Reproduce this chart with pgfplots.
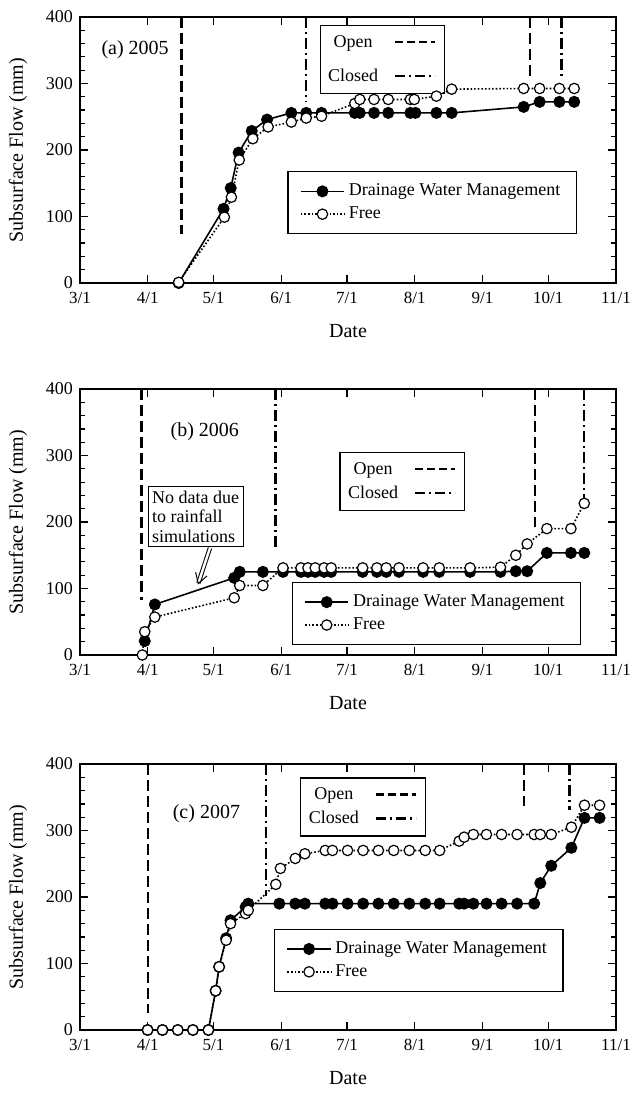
\documentclass[border=0pt]{standalone}
\usepackage{fontspec}
\setmainfont{Liberation Serif}
\usepackage{pgfplots}
\pgfplotsset{compat=1.18}
\usetikzlibrary{arrows.meta}

\pgfplotsset{
  panel/.style={
    scale only axis, width=268pt, height=133pt,
    xmin=0, xmax=245, ymin=0, ymax=400,
    xtick={0,31,61,92,122,153,184,214,245},
    xticklabels={3/1,4/1,5/1,6/1,7/1,8/1,9/1,10/1,11/1},
    ytick={0,100,200,300,400},
    minor y tick num=4,
    tick align=inside,
    major tick length=4pt, minor tick length=2.5pt,
    tick style={black, line width=0.6pt},
    axis line style={black, line width=0.9pt},
    /pgf/number format/assume math mode=true,
    yticklabel style={font=\fontsize{9}{10}\selectfont},
    xticklabel style={font=\fontsize{8.5}{10}\selectfont, yshift=-1pt},
    label style={font=\fontsize{10}{12}\selectfont},
    xlabel={Date}, ylabel={Subsurface Flow (mm)},
    every axis x label/.style={at={(rel axis cs:0.5,0)}, yshift=-24pt, anchor=center},
    every axis y label/.style={at={(rel axis cs:0,0.5)}, xshift=-31pt, rotate=90, anchor=center},
    clip=false,
    legend cell align=left,
    legend style={draw=black, line width=0.6pt, font=\fontsize{9}{11}\selectfont,
      inner xsep=6pt, inner ysep=4pt, row sep=0pt, anchor=north west},
    legend image code/.code={\draw[mark repeat=2,mark phase=2] plot coordinates {(0cm,0cm)(0.38cm,0cm)(0.76cm,0cm)};},
  },
  dwm/.style={black, solid, line width=0.8pt, mark=*, mark size=2.6pt, mark options={solid, fill=black}},
  free/.style={black, densely dotted, line width=0.8pt, mark=*, mark size=2.6pt, mark options={solid, fill=white, line width=0.6pt}},
  openl/.style={black, line width=1.2pt, dash pattern=on 5.5pt off 2.5pt, forget plot},
  closedl/.style={black, line width=1.2pt, dash pattern=on 5.5pt off 2pt on 1pt off 2pt, forget plot},
}

\newcommand{\ocbox}[3]{%
  \node[draw=black, line width=0.6pt, anchor=north west, inner xsep=4pt, inner ysep=3pt,
        font=\fontsize{9}{11}\selectfont] at (rel axis cs:#1,#2)
  {\begin{tabular}{@{}c@{\hspace{8pt}}l@{}}
   Open & \tikz[baseline=-0.6ex]\draw[line width=1.2pt,dash pattern=on 4pt off 2pt] (0,0)--(20pt,0);\\[#3]
   Closed & \tikz[baseline=-0.6ex]\draw[line width=1.2pt,dash pattern=on 5pt off 2pt on 1pt off 2pt] (0,0)--(20pt,0);
   \end{tabular}};}

\begin{document}
\begin{tikzpicture}
\useasboundingbox (0,0) rectangle (315.5pt,546.5pt);

% ---------------- (a) 2005 ----------------
\begin{axis}[panel, at={(40pt,405pt)}, anchor=south west,
  legend style={at={(rel axis cs:0.387,0.42)}}]
\addplot[openl] coordinates {(46.4,400) (46.4,74)};
\addplot[closedl] coordinates {(103.4,400) (103.4,272)};
\addplot[openl] coordinates {(205.7,400) (205.7,310)};
\addplot[closedl] coordinates {(220,400) (220,311)};
\addplot[dwm] coordinates {
(45.1,0) (65.6,111.5) (68.9,142.7) (72.5,196) (78.5,228.6) (85.5,245.7)
(96.6,255.8) (103.4,255.8) (110.4,255.8) (125.6,255.8) (127.9,255.8)
(134.4,255.8) (140.9,255.8) (151,255.8) (153.3,255.8) (162.9,255.8)
(169.9,255.8) (202.8,264.8) (210.1,272.4) (219.1,272.4) (225.9,272.4)};
\addlegendentry{Drainage Water Management}
\addplot[free] coordinates {
(45.1,1) (66,99) (69.2,129) (72.8,185) (79,217) (86,234.7)
(96.6,242) (103.4,248) (110.4,250.8) (125.6,270) (127.9,276)
(134.4,276) (140.9,276) (151,276) (152.8,276) (162.9,281)
(169.9,291.5) (202.8,292.5) (210.1,292.5) (219.1,292.5) (225.9,292.5)};
\addlegendentry{Free}
\node[anchor=west, font=\fontsize{10}{12}\selectfont] at (rel axis cs:0.027,0.876) {(a) 2005};
\ocbox{0.447}{0.969}{6pt}
\end{axis}

% ---------------- (b) 2006 ----------------
\begin{axis}[panel, at={(40pt,219pt)}, anchor=south west,
  legend style={at={(rel axis cs:0.395,0.274)}}]
\addplot[openl] coordinates {(28.2,400) (28.2,83)};
\addplot[closedl] coordinates {(89.3,400) (89.3,158)};
\addplot[openl] coordinates {(208,400) (208,193)};
\addplot[closedl] coordinates {(230.5,400) (230.5,228)};
\addplot[dwm] coordinates {
(29.6,21) (34.2,76) (70.5,116) (73,125) (83.6,125) (92.8,125) (101,125)
(104.2,125) (107.5,125) (111.6,125) (114.8,125) (129.2,125) (135.7,125)
(140,125) (145.8,125) (156.8,125) (164.2,125) (178.3,125) (192.2,125)
(199.2,126) (204.4,126) (213.4,153.5) (224.4,153.5) (230.5,153.5)};
\addlegendentry{Drainage Water Management}
\addplot[free] coordinates {
(28.5,0) (29.6,35) (34.2,57) (70.5,86) (73,104.5) (83.6,104.5) (92.8,131)
(101,131) (104.2,131) (107.5,131) (111.6,131) (114.8,131) (129.2,131)
(135.7,131) (140,131) (145.8,131) (156.8,131) (164.2,131) (178.3,131)
(192.2,132) (199.2,150) (204.4,167) (213.4,190) (224.4,190) (230.5,228)};
\addlegendentry{Free}
\node[anchor=west, font=\fontsize{10}{12}\selectfont] at (rel axis cs:0.156,0.838) {(b) 2006};
\ocbox{0.484}{0.763}{1pt}
\node[draw=black, line width=0.6pt, anchor=north west, align=left, inner sep=2pt,
      font=\fontsize{9}{9.8}\selectfont] at (rel axis cs:0.126,0.635)
  {No data due\\to rainfall\\simulations};
\draw[black, line width=0.5pt, double, double distance=1.2pt,
      -{Straight Barb[length=5pt,width=6pt]}] (axis cs:59.4,161) -- (axis cs:53.9,106);
\end{axis}

% ---------------- (c) 2007 ----------------
\begin{axis}[panel, at={(40pt,31.5pt)}, anchor=south west,
  legend style={at={(rel axis cs:0.362,0.38)}}]
\addplot[openl] coordinates {(31.2,400) (31.2,25)};
\addplot[closedl] coordinates {(85,400) (85,202)};
\addplot[openl] coordinates {(203,400) (203,337)};
\addplot[closedl] coordinates {(223.8,400) (223.8,331)};
\addplot[dwm] coordinates {
(30.9,0) (37.7,0) (44.7,0) (51.6,0) (58.7,0) (62,59) (63.6,95) (66.8,138)
(68.8,165) (75.7,185) (76.9,190) (91.1,190) (98.4,190) (102.8,190)
(112.1,190) (115.4,190) (122.3,190) (129.4,190) (136.4,190) (143.4,190)
(150.5,190) (157.8,190) (164.4,190) (173.3,190) (175.6,190) (179.8,190)
(185.8,190) (192.7,190) (199.8,190) (207.6,190) (210.4,221) (215.4,247)
(224.6,274) (230.6,319) (237.5,319)};
\addlegendentry{Drainage Water Management}
\addplot[free] coordinates {
(30.9,0) (37.7,0) (44.7,0) (51.6,0) (58.7,0) (62,59) (63.6,95) (66.8,135)
(68.8,160) (75.7,175) (76.9,180) (89.5,219) (91.6,243) (98.4,258)
(102.8,265) (112.1,270) (115.4,270) (122.3,270) (129.4,270) (136.4,270)
(143.4,270) (150.5,270) (157.8,270) (164.4,270) (173.3,284) (175.6,290)
(179.8,294) (185.8,294) (192.7,294) (199.8,294) (207.6,294) (210.4,294)
(215.4,294) (224.6,305) (230.6,338) (237.5,338)};
\addlegendentry{Free}
\node[anchor=west, font=\fontsize{10}{12}\selectfont] at (rel axis cs:0.16,0.813) {(c) 2007};
\ocbox{0.411}{0.95}{1pt}
\end{axis}
\end{tikzpicture}
\end{document}
